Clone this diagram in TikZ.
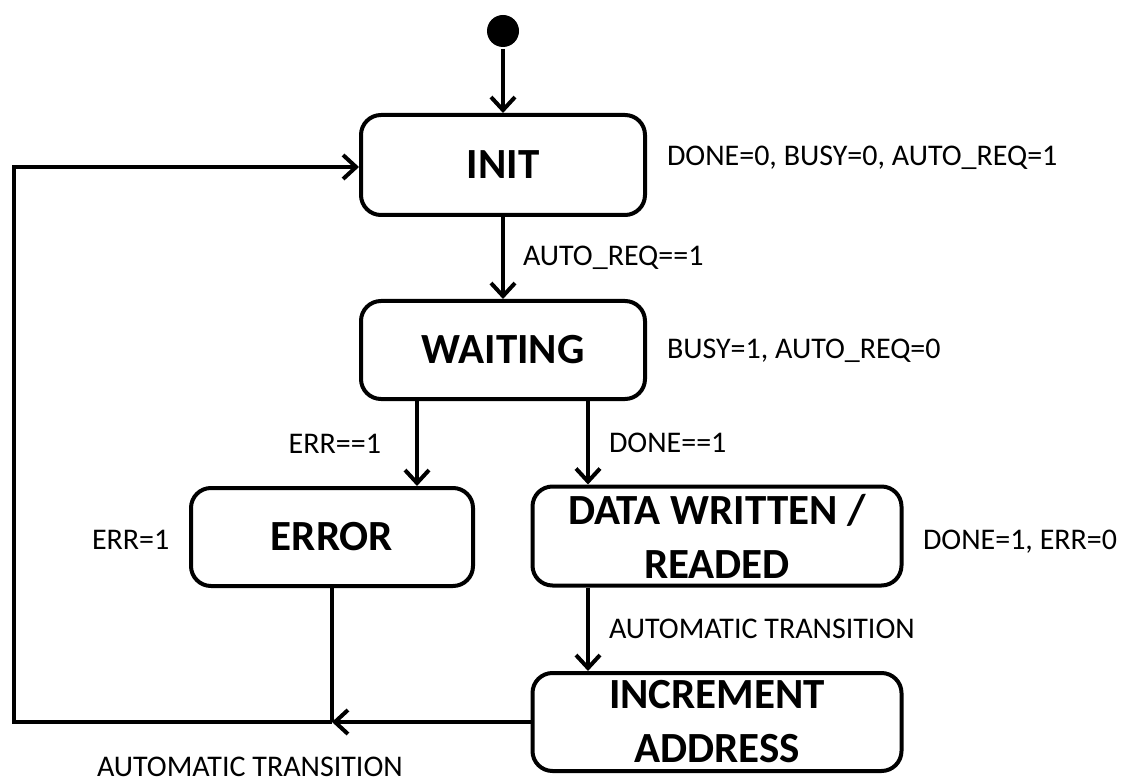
\documentclass[tikz,border=0pt]{standalone}
\usepackage{fontspec}
\setmainfont{Carlito}
\usepackage{tikz}
\usetikzlibrary{arrows.meta}
\usetikzlibrary{calc}

\begin{document}
\begin{tikzpicture}[x=1pt,y=-1pt,line width=4pt,
  state/.style={draw,rounded corners=20pt,align=center,inner sep=0pt,
    font=\fontsize{43}{54}\selectfont\bfseries},
  lbl/.style={inner sep=0pt,font=\fontsize{30}{35}\selectfont},
  arr/.style={-{Straight Barb[length=13pt,width=24pt]}}]
  \useasboundingbox (0,0) rectangle (1121,783);
  % initial state
  \node[circle,fill,inner sep=0pt,minimum size=32pt] (start) at (503,31) {};
  % states
  \node[state,minimum width=284pt,minimum height=100pt] (init) at (503,165) {INIT};
  \node[state,minimum width=284pt,minimum height=98pt] (wait) at (503,350) {WAITING};
  \node[state,minimum width=282pt,minimum height=98pt] (err) at (332,537) {ERROR};
  \node[state,minimum width=369pt,minimum height=99pt] (data) at (717,536) {DATA WRITTEN /\\READED};
  \node[state,minimum width=369pt,minimum height=98pt] (inc) at (717,722) {INCREMENT\\ADDRESS};
  % outputs of the states
  \node[lbl,anchor=base west] (oinit) at (665,166) {DONE=0, BUSY=0, AUTO\_REQ=1};
  \node[lbl,anchor=base west] (owait) at (665,359) {BUSY=1, AUTO\_REQ=0};
  \node[lbl,anchor=base west] (oerr) at (90,549) {ERR=1};
  \node[lbl,anchor=base west] (odata) at (921,549) {DONE=1, ERR=0};
  % transitions
  \draw[arr] (start) -- (init);
  \draw[arr] (init) -- (wait) node[lbl,anchor=west,pos=0.5,xshift=18pt] (treq) {AUTO\_REQ==1};
  \draw[arr] ([xshift=-86pt]wait.south) -- ([xshift=-86pt]wait.south |- err.north)
    node[lbl,anchor=east,pos=0.5,xshift=-34pt] (terr) {ERR==1};
  \draw[arr] ([xshift=85pt]wait.south) -- ([xshift=85pt]wait.south |- data.north)
    node[lbl,anchor=west,pos=0.5,xshift=19pt] (tdone) {DONE==1};
  \draw[arr] ([xshift=-129pt]data.south) -- ([xshift=-129pt]data.south |- inc.north)
    node[lbl,anchor=west,pos=0.5,xshift=19pt] (tauto) {AUTOMATIC TRANSITION};
  % back to INIT
  \coordinate (join) at (err.south |- inc.west);
  \coordinate (back) at (14,0);
  \draw[arr] (inc.west) -- (join);
  \draw (err.south) -- (join);
  \draw[arr] (join) -- (join -| back) |- ([yshift=-2pt]init.west);
  \node[lbl,anchor=base west] (tback) at (95,776) {AUTOMATIC TRANSITION};
\end{tikzpicture}
\end{document}
